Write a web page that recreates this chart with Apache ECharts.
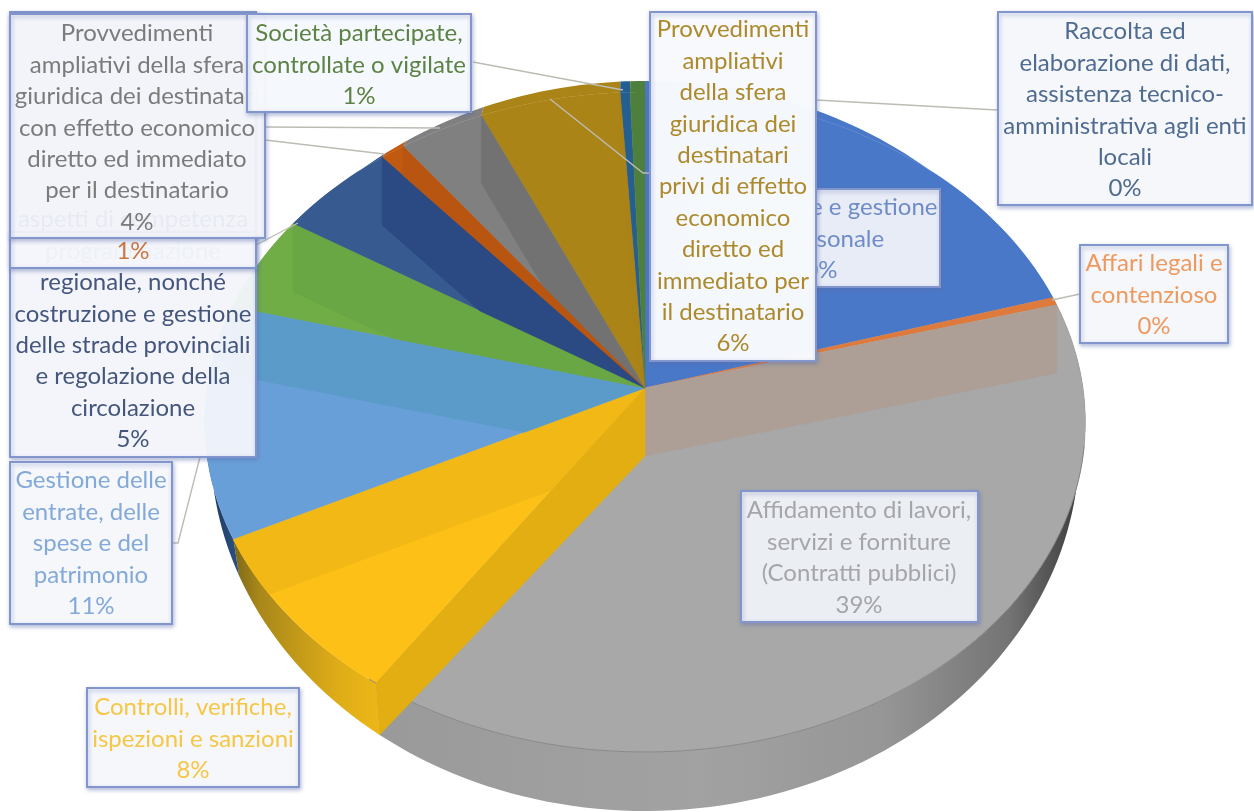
<!DOCTYPE html>
<html lang="it">
<head>
<meta charset="utf-8">
<title>Distribuzione dei processi per area di rischio</title>
<script src="https://cdn.jsdelivr.net/npm/echarts@6/dist/echarts.min.js"></script>
<style>
  html, body { margin: 0; padding: 0; background: #fff; }
  #chart { width: 1254px; height: 812px; }
</style>
</head>
<body>
<div id="chart"></div>
<script>
// Share of processes per area, clockwise from twelve o'clock
const categories = [
  'Acquisizione e gestione\ndel personale',
  'Affari legali e\ncontenzioso',
  'Affidamento di lavori,\nservizi e forniture\n(Contratti pubblici)',
  'Controlli, verifiche,\nispezioni e sanzioni',
  'Gestione delle\nentrate, delle\nspese e del\npatrimonio',
  '',
  'aspetti di competenza\nprogrammazione\nregionale, nonché\ncostruzione e gestione\ndelle strade provinciali\ne regolazione della\ncircolazione',
  '',
  'Provvedimenti\nampliativi della sfera\ngiuridica dei destinatari\ncon effetto economico\ndiretto ed immediato\nper il destinatario',
  'Provvedimenti\nampliativi\ndella sfera\ngiuridica dei\ndestinatari\nprivi di effetto\neconomico\ndiretto ed\nimmediato per\nil destinatario',
  'Raccolta ed\nelaborazione di dati,\nassistenza tecnico-\namministrativa agli enti\nlocali',
  'Società partecipate,\ncontrollate o vigilate'
];
const values = [20.4, 0.4, 38.7, 8.2, 11.4, 4.8, 4.9, 1.0, 3.5, 5.7, 0.4, 0.6];

// Slice styling
const faceColors = ['#4a78c8', '#dd7a3c', '#a8a8a8', '#fdc017', '#699fd8', '#70ad47',
                    '#375a90', '#c05a10', '#808080', '#ab8417', '#255e91', '#4f7f3c'];
const innerColors = [null, '#ad9f96', null, '#f1b816', '#5b9bc9', '#69a644',
                     '#2b4a83', '#b85510', '#727272', '#a98318', null, null];
const textColors = ['#6f8cc8', '#ee9a5f', '#a5a5aa', '#f6c644', '#82a9d9', '#6a9a50',
                    '#44567c', '#c9763f', '#7b7b7b', '#ac8a2c', '#4f6b90', '#5d8245'];

// Projection of the tilted disc; the lower outline has its own ellipse
const geo = {
  cx: 645, cy: 388, rx: 438, ry: 326.5, persp: 0.103, wall: 68,
  top: { cx: 646, cy: 422, rx: 438, ry: 330 },
  base: { cx: 646, cy: 446, rx: 432, ry: 365 }
};
const total = values.reduce((a, b) => a + b, 0);
const edges = values.reduce((acc, v) => { acc.push(acc[acc.length - 1] + v / total * 360); return acc; }, [0]);

function rim(deg) {
  const t = deg * Math.PI / 180, X = Math.sin(t), Y = -Math.cos(t), w = 1 - geo.persp * Y;
  return [geo.cx + geo.rx * X / w, geo.cy + geo.ry * Y / w];
}
function toBase(p) {
  const ux = (p[0] - geo.top.cx) / geo.top.rx, uy = (p[1] - geo.top.cy) / geo.top.ry;
  return [geo.base.cx + geo.base.rx * ux, geo.base.cy + geo.base.ry * uy];
}
function arc(a, b) {
  const n = Math.max(2, Math.ceil((b - a) / 1.5)), pts = [];
  for (let i = 0; i <= n; i++) pts.push(rim(a + (b - a) * i / n));
  return pts;
}
const shift = (p, d) => [p[0], p[1] + d];
const apex = [geo.cx, geo.cy];
const sector = (i) => [apex].concat(arc(edges[i], edges[i + 1]));
const wallQuad = (deg) => {
  const r = rim(deg);
  return [apex, r, shift(r, geo.wall), shift(apex, geo.wall)];
};

// Clip a polygon to a convex clockwise polygon
function clip(subject, mask) {
  let out = subject;
  for (let i = 0; i < mask.length; i++) {
    const A = mask[i], B = mask[(i + 1) % mask.length];
    const side = (p) => (B[0] - A[0]) * (p[1] - A[1]) - (B[1] - A[1]) * (p[0] - A[0]);
    const input = out; out = [];
    for (let j = 0; j < input.length; j++) {
      const P = input[j], Q = input[(j + 1) % input.length], sp = side(P), sq = side(Q);
      if (sp >= -1e-9) out.push(P);
      if ((sp > 1e-9 && sq < -1e-9) || (sp < -1e-9 && sq > 1e-9)) {
        const t = sp / (sp - sq);
        out.push([P[0] + (Q[0] - P[0]) * t, P[1] + (Q[1] - P[1]) * t]);
      }
    }
    if (!out.length) break;
  }
  return out;
}

const poly = (points, fill, extra) => ({
  type: 'polygon', shape: { points },
  style: Object.assign({ fill, stroke: typeof fill === 'string' ? fill : null, lineWidth: 0.5 }, extra || {})
});
const hGrad = (x, x2, stops) => ({
  type: 'linear', x, y: 0, x2, y2: 0, global: true,
  colorStops: stops.map(s => ({ offset: s[0], color: s[1] }))
});

// Outer side of the disc
const sideFill = {
  2: hGrad(385, 1078, [[0, '#9a9a9a'], [0.45, '#a2a2a2'], [0.72, '#969696'], [0.9, '#747474'], [1, '#3f3f3f']]),
  3: hGrad(222, 390, [[0, '#6a5a18'], [0.22, '#a8871a'], [0.7, '#dfad17'], [1, '#efb916']]),
  4: hGrad(210, 245, [[0, '#1f3a5f'], [1, '#2f5688']])
};
function renderSide(params, api) {
  const i = api.value(0);
  const top = arc(edges[i], edges[i + 1]);
  const bottom = top.map(toBase).reverse();
  return poly(top.concat(bottom), sideFill[i] || faceColors[i], { stroke: null, lineWidth: 0 });
}
function renderFace(params, api) {
  const i = api.value(0);
  return poly(sector(i), faceColors[i]);
}
// Radial inner walls lying over the faces
function renderWalls(params, api) {
  const i = api.value(0);
  const children = [];
  if (i === 1) {
    children.push(poly(wallQuad(edges[2]), innerColors[1]));
  } else if (innerColors[i]) {
    const piece = clip(wallQuad(edges[i + 1]), sector(i));
    if (piece.length > 2) children.push(poly(piece, innerColors[i]));
  }
  if (i === 3) {
    const r = rim(edges[3]);
    children.push(poly([apex, r, toBase(r), shift(apex, geo.wall)], '#e2ae12'));
  }
  if (i === 2) {
    children.push({
      type: 'polyline', shape: { points: arc(100, edges[3] + 1) },
      style: { fill: null, stroke: '#888888', lineWidth: 1 }
    });
  }
  return { type: 'group', children };
}

// Callout boxes, painted back to front
const callouts = [
  { i: 0, box: [690, 189, 250, 98], cx: 814, y: 192, a: 0.9 },
  { i: 6, box: [10, 12, 246, 445], cx: 133, y: 204, a: 0.92 },
  { i: 7, box: [10, 232, 246, 36], cx: 133, y: 236, a: 0.94 },
  { i: 8, box: [10, 14, 255, 224], cx: 137, y: 18, a: 0.9 },
  { i: 11, box: [247, 14, 224, 98], cx: 359, y: 18, a: 0.96 },
  { i: 9, box: [650, 12, 166, 349], cx: 733, y: 14, a: 0.98 },
  { i: 10, box: [998, 12, 254, 193], cx: 1125, y: 16, a: 0.95 },
  { i: 1, box: [1080, 245, 148, 98], cx: 1154, y: 248, a: 0.95 },
  { i: 2, box: [741, 491, 237, 131], cx: 859, y: 495, a: 0.88 },
  { i: 4, box: [10, 462, 162, 162], cx: 91, y: 465, a: 0.95 },
  { i: 3, box: [87, 688, 212, 99], cx: 193, y: 692, a: 0.95 }
];
const leaders = [
  [[473, 62], [623, 90]],
  [[550, 99], [643, 173], [650, 173]],
  [[997, 110], [816, 100]],
  [[1080, 294], [1052, 300]],
  [[265, 127], [440, 128]],
  [[265, 140], [384, 154]],
  [[172, 543], [178, 543], [200, 457]],
  [[256, 245], [298, 223]]
];

const graphic = [];
leaders.forEach(points => graphic.push({
  type: 'polyline', z: 8, shape: { points },
  style: { fill: null, stroke: '#bcbcb4', lineWidth: 1.4 }
}));
callouts.forEach((c, n) => {
  const z = 10 + n * 2, [x, y, width, height] = c.box;
  graphic.push({
    type: 'rect', z, shape: { x, y, width, height },
    style: {
      fill: 'rgba(248,250,253,' + c.a + ')', stroke: '#8295cc', lineWidth: 2,
      shadowBlur: 4, shadowOffsetX: 1, shadowOffsetY: 2, shadowColor: 'rgba(90,110,170,0.45)'
    }
  });
  const pct = Math.round(values[c.i]) + '%';
  graphic.push({
    type: 'text', z: z + 1,
    style: {
      text: categories[c.i] ? categories[c.i] + '\n' + pct : pct,
      x: c.cx, y: c.y, align: 'center', verticalAlign: 'top',
      font: '24px Lato, "Noto Sans", sans-serif', lineHeight: 31.4, fill: textColors[c.i]
    }
  });
});

const sliceData = values.map((v, i) => [i, v]);
const chart = echarts.init(document.getElementById('chart'), null, { renderer: 'canvas' });
chart.setOption({
  animation: false,
  backgroundColor: '#ffffff',
  series: [
    { type: 'custom', coordinateSystem: 'none', z: 1, silent: true, data: sliceData, renderItem: renderSide },
    { type: 'custom', coordinateSystem: 'none', z: 2, silent: true, data: sliceData, renderItem: renderFace },
    { type: 'custom', coordinateSystem: 'none', z: 3, silent: true, data: sliceData, renderItem: renderWalls }
  ],
  graphic
});
</script>
</body>
</html>
